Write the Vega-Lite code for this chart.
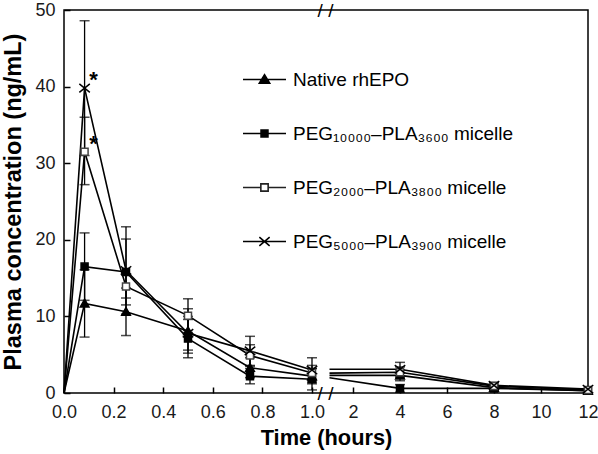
{
  "$schema": "https://vega.github.io/schema/vega-lite/v6.json",
  "autosize": "none",
  "width": 524,
  "height": 383,
  "padding": {"left": 64, "top": 10, "right": 10, "bottom": 61},
  "config": {
    "font": "Liberation Sans",
    "view": {"stroke": "black", "strokeWidth": 1.5},
    "axis": {
      "grid": false, "domain": false, "ticks": true, "zindex": 1, "tickColor": "black", "tickWidth": 1.5, "tickSize": 6, "offset": -6,
      "labelFontSize": 18, "labelColor": "#1a1a1a", "labelFont": "Liberation Sans",
      "titleFontSize": 21.8, "titleFontWeight": "bold", "titleColor": "black", "titleFont": "Liberation Sans"
    }
  },
  "datasets": {
    "pk": [
      {"s": "Native rhEPO", "seg": "L", "t": 0, "c": 0},
      {"s": "Native rhEPO", "seg": "L", "t": 0.083, "c": 11.7, "lo": 7.3, "hi": 16.1},
      {"s": "Native rhEPO", "seg": "L", "t": 0.25, "c": 10.6, "lo": 7.5, "hi": 13.7},
      {"s": "Native rhEPO", "seg": "L", "t": 0.5, "c": 8.1, "lo": 5.2, "hi": 11.0},
      {"s": "Native rhEPO", "seg": "L", "t": 0.75, "c": 3.3, "lo": 2.0, "hi": 4.6},
      {"s": "Native rhEPO", "seg": "L", "t": 1, "c": 2.2, "lo": 1.2, "hi": 3.2},
      {"s": "Native rhEPO", "seg": "R", "t": 1.0001, "c": 2.3},
      {"s": "Native rhEPO", "seg": "R", "t": 4, "c": 2.3, "lo": 1.6, "hi": 3.0},
      {"s": "Native rhEPO", "seg": "R", "t": 8, "c": 0.7, "lo": 0.4, "hi": 1.0},
      {"s": "Native rhEPO", "seg": "R", "t": 12, "c": 0.3},
      {"s": "PEG₁₀₀₀₀–PLA₃₆₀₀ micelle", "seg": "L", "t": 0, "c": 0},
      {"s": "PEG₁₀₀₀₀–PLA₃₆₀₀ micelle", "seg": "L", "t": 0.083, "c": 16.5, "lo": 12.1, "hi": 20.9},
      {"s": "PEG₁₀₀₀₀–PLA₃₆₀₀ micelle", "seg": "L", "t": 0.25, "c": 15.8, "lo": 11.5, "hi": 20.1},
      {"s": "PEG₁₀₀₀₀–PLA₃₆₀₀ micelle", "seg": "L", "t": 0.5, "c": 7.1, "lo": 4.6, "hi": 9.6},
      {"s": "PEG₁₀₀₀₀–PLA₃₆₀₀ micelle", "seg": "L", "t": 0.75, "c": 2.2, "lo": 1.2, "hi": 3.2},
      {"s": "PEG₁₀₀₀₀–PLA₃₆₀₀ micelle", "seg": "L", "t": 1, "c": 1.8, "lo": 0.4, "hi": 3.2},
      {"s": "PEG₁₀₀₀₀–PLA₃₆₀₀ micelle", "seg": "R", "t": 1.0001, "c": 2.0},
      {"s": "PEG₁₀₀₀₀–PLA₃₆₀₀ micelle", "seg": "R", "t": 4, "c": 0.6, "lo": 0.1, "hi": 1.1},
      {"s": "PEG₁₀₀₀₀–PLA₃₆₀₀ micelle", "seg": "R", "t": 8, "c": 0.6, "lo": 0.2, "hi": 1.0},
      {"s": "PEG₁₀₀₀₀–PLA₃₆₀₀ micelle", "seg": "R", "t": 12, "c": 0.3},
      {"s": "PEG₂₀₀₀–PLA₃₈₀₀ micelle", "seg": "L", "t": 0, "c": 0},
      {"s": "PEG₂₀₀₀–PLA₃₈₀₀ micelle", "seg": "L", "t": 0.083, "c": 31.5, "lo": 27.2, "hi": 36.0, "star": "*"},
      {"s": "PEG₂₀₀₀–PLA₃₈₀₀ micelle", "seg": "L", "t": 0.25, "c": 13.9, "lo": 12.4, "hi": 15.4},
      {"s": "PEG₂₀₀₀–PLA₃₈₀₀ micelle", "seg": "L", "t": 0.5, "c": 10.1, "lo": 7.9, "hi": 12.3},
      {"s": "PEG₂₀₀₀–PLA₃₈₀₀ micelle", "seg": "L", "t": 0.75, "c": 4.9, "lo": 3.5, "hi": 6.3},
      {"s": "PEG₂₀₀₀–PLA₃₈₀₀ micelle", "seg": "L", "t": 1, "c": 2.6, "lo": 1.6, "hi": 3.6},
      {"s": "PEG₂₀₀₀–PLA₃₈₀₀ micelle", "seg": "R", "t": 1.0001, "c": 2.6},
      {"s": "PEG₂₀₀₀–PLA₃₈₀₀ micelle", "seg": "R", "t": 4, "c": 2.7, "lo": 2.0, "hi": 3.4},
      {"s": "PEG₂₀₀₀–PLA₃₈₀₀ micelle", "seg": "R", "t": 8, "c": 0.9, "lo": 0.5, "hi": 1.3},
      {"s": "PEG₂₀₀₀–PLA₃₈₀₀ micelle", "seg": "R", "t": 12, "c": 0.4},
      {"s": "PEG₅₀₀₀–PLA₃₉₀₀ micelle", "seg": "L", "t": 0, "c": 0},
      {"s": "PEG₅₀₀₀–PLA₃₉₀₀ micelle", "seg": "L", "t": 0.083, "c": 39.8, "lo": 31.0, "hi": 48.6, "star": "*"},
      {"s": "PEG₅₀₀₀–PLA₃₉₀₀ micelle", "seg": "L", "t": 0.25, "c": 16.0, "lo": 10.3, "hi": 21.7},
      {"s": "PEG₅₀₀₀–PLA₃₉₀₀ micelle", "seg": "L", "t": 0.5, "c": 7.8, "lo": 5.6, "hi": 10.0},
      {"s": "PEG₅₀₀₀–PLA₃₉₀₀ micelle", "seg": "L", "t": 0.75, "c": 5.5, "lo": 3.6, "hi": 7.4},
      {"s": "PEG₅₀₀₀–PLA₃₉₀₀ micelle", "seg": "L", "t": 1, "c": 3.0, "lo": 1.4, "hi": 4.6},
      {"s": "PEG₅₀₀₀–PLA₃₉₀₀ micelle", "seg": "R", "t": 1.0001, "c": 3.1},
      {"s": "PEG₅₀₀₀–PLA₃₉₀₀ micelle", "seg": "R", "t": 4, "c": 3.1, "lo": 2.2, "hi": 4.0},
      {"s": "PEG₅₀₀₀–PLA₃₉₀₀ micelle", "seg": "R", "t": 8, "c": 1.0, "lo": 0.6, "hi": 1.4},
      {"s": "PEG₅₀₀₀–PLA₃₉₀₀ micelle", "seg": "R", "t": 12, "c": 0.5}
    ]
  },
  "data": {"name": "pk"},
  "encoding": {
    "x": {
      "field": "t", "type": "quantitative",
      "scale": {"domain": [0, 1, 1.0001, 12], "range": [0, 248, 265.5, 524], "nice": false, "zero": false},
      "axis": {
        "title": "Time (hours)",
        "values": [0, 0.2, 0.4, 0.6, 0.8, 1, 2, 4, 6, 8, 10, 12],
        "labelExpr": "datum.value <= 1 ? format(datum.value, '.1f') : format(datum.value, 'd')",
        "labelPadding": 10.5, "titlePadding": 6, "labelFlush": false
      }
    }
  },
  "layer": [
    {
      "mark": {"type": "line", "color": "black", "strokeWidth": 1.6},
      "encoding": {
        "y": {
          "field": "c", "type": "quantitative",
          "scale": {"domain": [0, 50], "nice": false},
          "axis": {
            "title": "Plasma concentration (ng/mL)",
            "values": [0, 5, 10, 15, 20, 25, 30, 35, 40, 45, 50],
            "labelExpr": "datum.value % 10 == 0 ? datum.label : ''",
            "labelPadding": 9, "titleFontSize": 23.5, "titlePadding": 9
          }
        },
        "detail": [{"field": "s"}, {"field": "seg"}],
        "order": {"field": "t", "type": "quantitative"}
      }
    },
    {
      "transform": [{"filter": "isValid(datum.lo)"}],
      "mark": {"type": "rule", "color": "black", "strokeWidth": 1.3},
      "encoding": {
        "y": {"field": "lo", "type": "quantitative", "title": "Plasma concentration (ng/mL)"},
        "y2": {"field": "hi"}
      }
    },
    {
      "transform": [{"filter": "isValid(datum.lo)"}],
      "mark": {"type": "tick", "orient": "horizontal", "color": "black", "size": 10, "thickness": 1.5},
      "encoding": {
        "y": {"field": "lo", "type": "quantitative", "title": "Plasma concentration (ng/mL)"}
      }
    },
    {
      "transform": [{"filter": "isValid(datum.hi)"}],
      "mark": {"type": "tick", "orient": "horizontal", "color": "black", "size": 10, "thickness": 1.5},
      "encoding": {
        "y": {"field": "hi", "type": "quantitative", "title": "Plasma concentration (ng/mL)"}
      }
    },
    {
      "transform": [{"filter": "datum.t > 0 && (datum.t <= 1 || datum.t >= 2)"}],
      "mark": {"type": "point", "filled": true, "size": 196, "strokeWidth": 1.5, "opacity": 1},
      "encoding": {
        "y": {"field": "c", "type": "quantitative", "title": "Plasma concentration (ng/mL)"},
        "shape": {
          "field": "s", "type": "nominal", "legend": null,
          "scale": {
            "domain": ["Native rhEPO", "PEG₁₀₀₀₀–PLA₃₆₀₀ micelle", "PEG₂₀₀₀–PLA₃₈₀₀ micelle", "PEG₅₀₀₀–PLA₃₉₀₀ micelle"],
            "range": [
              "M0,-0.6L0.62,0.5L-0.62,0.5Z",
              "M-0.5,-0.5H0.5V0.5H-0.5Z",
              "M-0.5,-0.5H0.5V0.5H-0.5Z",
              "M-0.75,-0.6L0.75,0.6M-0.75,0.6L0.75,-0.6"
            ]
          }
        },
        "fill": {"condition": {"test": "datum.s == 'PEG₂₀₀₀–PLA₃₈₀₀ micelle'", "value": "white"}, "value": "black"},
        "stroke": {"condition": {"test": "datum.s == 'PEG₂₀₀₀–PLA₃₈₀₀ micelle'", "value": "#444444"}, "value": "black"}
      }
    },
    {
      "transform": [{"filter": "isValid(datum.star)"}],
      "mark": {"type": "text", "fontSize": 22, "fontWeight": "bold", "dx": 9, "dy": -8, "baseline": "middle", "color": "black"},
      "encoding": {
        "y": {"field": "c", "type": "quantitative", "title": "Plasma concentration (ng/mL)"},
        "text": {"field": "star"}
      }
    },
    {
      "transform": [{"filter": "datum.t == 1.0001 && datum.s == 'Native rhEPO'"}, {"calculate": "'/ /'", "as": "brk"}],
      "mark": {"type": "text", "fontSize": 19, "baseline": "middle", "align": "center", "color": "black", "dx": -4, "dy": 1},
      "encoding": {
        "y": {"datum": 0, "type": "quantitative"},
        "text": {"field": "brk"}
      }
    },
    {
      "transform": [{"filter": "datum.t == 1.0001 && datum.s == 'Native rhEPO'"}, {"calculate": "'/ /'", "as": "brk"}],
      "mark": {"type": "text", "fontSize": 19, "baseline": "middle", "align": "center", "color": "black", "dx": -4, "dy": 1},
      "encoding": {
        "y": {"datum": 50, "type": "quantitative"},
        "text": {"field": "brk"}
      }
    },
    {
      "transform": [{"filter": "false"}],
      "mark": {"type": "point", "filled": true, "size": 1849, "strokeWidth": 1.6, "opacity": 1},
      "encoding": {
        "y": {"field": "c", "type": "quantitative", "title": "Plasma concentration (ng/mL)"},
        "shape": {
          "field": "s", "type": "nominal",
          "scale": {
            "domain": ["Native rhEPO", "PEG₁₀₀₀₀–PLA₃₆₀₀ micelle", "PEG₂₀₀₀–PLA₃₈₀₀ micelle", "PEG₅₀₀₀–PLA₃₉₀₀ micelle"],
            "range": [
              "M-1,0H1M0,-0.22L0.24,0.17L-0.24,0.17Z",
              "M-1,0H1M-0.16,-0.16H0.16V0.16H-0.16Z",
              "M-1,0H-0.17M0.17,0H1M-0.17,-0.17H0.17V0.17H-0.17Z",
              "M-1,0H1M-0.24,-0.2L0.24,0.2M-0.24,0.2L0.24,-0.2"
            ]
          },
          "legend": {
            "orient": "none", "legendX": 178, "legendY": 47, "title": null, "padding": 0,
            "symbolSize": 1849, "symbolStrokeWidth": 1.6, "symbolOpacity": 1,
            "labelFontSize": 19, "labelColor": "black", "labelFont": "Liberation Sans", "labelOffset": 6,
            "rowPadding": 21, "labelLimit": 400
          }
        },
        "fill": {
          "field": "s", "type": "nominal",
          "scale": {
            "domain": ["Native rhEPO", "PEG₁₀₀₀₀–PLA₃₆₀₀ micelle", "PEG₂₀₀₀–PLA₃₈₀₀ micelle", "PEG₅₀₀₀–PLA₃₉₀₀ micelle"],
            "range": ["black", "black", "white", "black"]
          }
        },
        "stroke": {
          "field": "s", "type": "nominal",
          "scale": {
            "domain": ["Native rhEPO", "PEG₁₀₀₀₀–PLA₃₆₀₀ micelle", "PEG₂₀₀₀–PLA₃₈₀₀ micelle", "PEG₅₀₀₀–PLA₃₉₀₀ micelle"],
            "range": ["black", "black", "#222222", "black"]
          }
        }
      }
    }
  ],
  "resolve": {"scale": {"shape": "independent", "fill": "independent", "stroke": "independent"}}
}
